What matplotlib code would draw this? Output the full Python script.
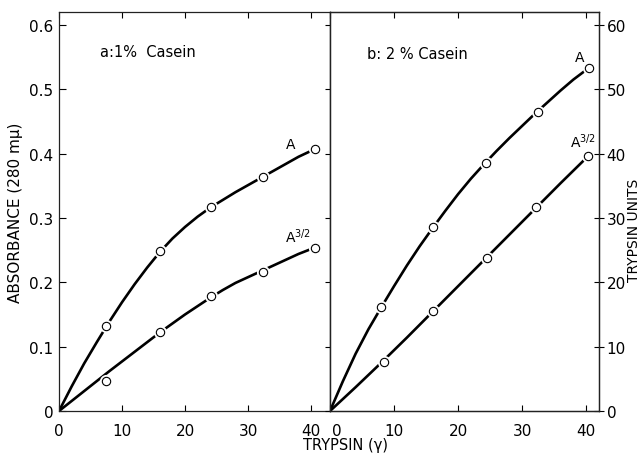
import matplotlib
matplotlib.use("Agg")
import matplotlib.pyplot as plt
from matplotlib.transforms import ScaledTranslation

plt.rcParams['font.family'] = ['DejaVu Sans']
plt.rcParams['mathtext.fontset'] = 'dejavusans'

# panel a: 1% casein (absorbance)
a_x = [7.5, 16.1, 24.1, 32.3, 40.6]
a_A = [0.132, 0.248, 0.317, 0.363, 0.407]
a_A32 = [0.047, 0.123, 0.178, 0.216, 0.254]
# smooth curves as drawn in the figure
a_curve_x = [0, 2, 4, 6, 8, 10, 12, 14, 16, 18, 20, 22, 24, 26, 28, 30,
             32, 34, 36, 38, 40.6]
a_curve_A = [0, 0.038, 0.074, 0.107, 0.139, 0.169, 0.197, 0.223, 0.247,
             0.268, 0.286, 0.302, 0.316, 0.328, 0.340, 0.351, 0.362,
             0.373, 0.384, 0.395, 0.407]
a_curve32 = [0, 0.0155, 0.031, 0.0465, 0.062, 0.077, 0.092, 0.107, 0.122,
             0.136, 0.150, 0.163, 0.176, 0.188, 0.199, 0.208, 0.217,
             0.226, 0.235, 0.244, 0.254]

# panel b: 2% casein
b_x = [8.0, 16.1, 24.3, 32.4, 40.4]
b_A = [0.162, 0.286, 0.386, 0.465, 0.533]
b_x32 = [8.4, 16.1, 24.5, 32.2, 40.3]
b_A32 = [0.076, 0.155, 0.238, 0.317, 0.396]
b_curve_x = [0, 2, 4, 6, 8, 10, 12, 14, 16, 18, 20, 22, 24, 26, 28, 30,
             32, 34, 36, 38, 40.4]
b_curve_A = [0, 0.046, 0.089, 0.127, 0.161, 0.194, 0.226, 0.256, 0.284,
             0.311, 0.337, 0.361, 0.383, 0.404, 0.424, 0.443, 0.462,
             0.480, 0.498, 0.515, 0.533]
b_curve32_x = [0, 4, 8, 12, 16, 20, 24, 28, 32, 36, 40.3]
b_curve32 = [0, 0.037, 0.075, 0.114, 0.154, 0.194, 0.234, 0.274, 0.314,
             0.354, 0.396]

x_ticks = [0, 10, 20, 30, 40]
abs_ticks = [0, 0.1, 0.2, 0.3, 0.4, 0.5, 0.6]
abs_labels = ['0', '0.1', '0.2', '0.3', '0.4', '0.5', '0.6']
unit_ticks = [0, 10, 20, 30, 40, 50, 60]

W, H = 643, 456
fig = plt.figure(figsize=(W / 100, H / 100), dpi=100)
ax1 = fig.add_axes([59 / W, 1 - 412 / H, (330 - 59) / W, (412 - 13) / H])
ax2 = fig.add_axes([330 / W, 1 - 412 / H, (599 - 330) / W, (412 - 13) / H])

def draw(ax, cx, cy, px, py):
    ax.plot(cx, cy, color='black', lw=1.9, zorder=2, solid_capstyle='round',
            solid_joinstyle='round')
    ax.plot(px, py, 'o', ms=9.5, mfc='white', mec='none', zorder=3)
    ax.plot(px, py, 'o', ms=6, mfc='white', mec='black', mew=0.8, zorder=4)

draw(ax1, a_curve_x, a_curve_A, a_x, a_A)
draw(ax1, a_curve_x, a_curve32, a_x, a_A32)
draw(ax2, b_curve_x, b_curve_A, b_x, b_A)
draw(ax2, b_curve32_x, b_curve32, b_x32, b_A32)

for ax, xmax in ((ax1, 43), (ax2, 42)):
    ax.set_xlim(0, xmax)
    ax.set_ylim(0, 0.62)
    ax.set_xticks(x_ticks)
    ax.tick_params(axis='x', direction='in', top=True, length=4, width=0.8,
                   pad=9, labelsize=11)
    for s in ax.spines.values():
        s.set_linewidth(0.9)
        s.set_color('#222222')

ax1.set_yticks(abs_ticks, labels=abs_labels)
ax1.tick_params(axis='y', direction='in', right=False, length=5, width=0.8,
                pad=4, labelsize=11)
ax1.set_ylabel('ABSORBANCE (280 mμ)', fontsize=11)
ax1.yaxis.set_label_coords(-0.133, 0.5)

ax2.tick_params(axis='y', left=False, labelleft=False)
tw = ax2.twinx()
tw.set_ylim(0, 62)
tw.set_yticks(unit_ticks)
tw.tick_params(axis='y', direction='inout', length=7, width=0.8, pad=2,
               labelsize=11)
for s in tw.spines.values():
    s.set_linewidth(0.9)
    s.set_color('#222222')
tw.set_ylabel('TRYPSIN UNITS', fontsize=10)
tw.yaxis.set_label_coords(1.105, 0.456)

# the right panel's "0" sits a little right of the origin
lab0 = ax2.get_xticklabels()[0]
lab0.set_transform(lab0.get_transform() + ScaledTranslation(0.07, 0, fig.dpi_scale_trans))

ax1.text(6.5, 0.558, 'a:1%  Casein', fontsize=10.5, va='center')
ax2.text(5.8, 0.555, 'b: 2 % Casein', fontsize=10.5, va='center')
ax1.text(36.8, 0.415, 'A', fontsize=10, ha='center', va='center')
ax1.text(35.9, 0.262, r'A$^{3/2}$', fontsize=10, ha='left', va='baseline')
ax2.text(38.9, 0.55, 'A', fontsize=10, ha='center', va='center')
ax2.text(37.5, 0.41, r'A$^{3/2}$', fontsize=10, ha='left', va='baseline')

fig.text(346 / W, 1 - 446 / H, 'TRYPSIN (γ)', fontsize=10.5, ha='center', va='center')

fig.savefig('out.png', dpi=100)
